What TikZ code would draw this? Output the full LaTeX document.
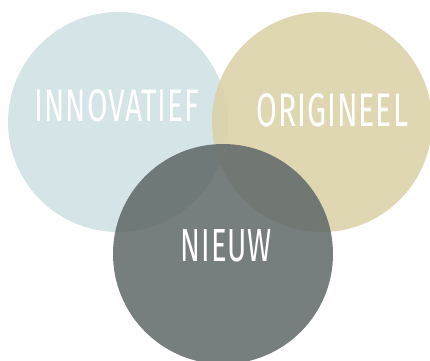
\documentclass[tikz,border=0pt]{standalone}
\usepackage{fontspec}
\setmainfont{Fira Sans}[LetterSpace=3]
\usepackage{graphicx}
\definecolor{cblue}{HTML}{D4E4E7}
\definecolor{ctan}{HTML}{DCD2AA}
\definecolor{cgray}{HTML}{5F6767}
\tikzset{
  venn/.style={circle, minimum size=220pt, inner sep=0pt, draw=none},
  lbl/.style={text=white, inner sep=0pt, anchor=center}
}
\begin{document}
\begin{tikzpicture}[x=1pt,y=-1pt]
\useasboundingbox (0,0) rectangle (430,360);
\clip (0,0) rectangle (430,360);
\node[venn, fill=cblue] (a) at (118,122) {};
\node[venn, fill=ctan, fill opacity=0.9] (b) at (322,122) {};
\node[venn, fill=cgray, fill opacity=0.85] (c) at (223,254) {};
\node[lbl] (ta) at (117,106) {\resizebox{164pt}{32pt}{INNOVATIEF}};
\node[lbl] (tb) at (332.5,110.5) {\resizebox{151pt}{33pt}{ORIGINEEL}};
\node[lbl] (tc) at (226.5,246) {\resizebox{91pt}{32pt}{NIEUW}};
\end{tikzpicture}
\end{document}
